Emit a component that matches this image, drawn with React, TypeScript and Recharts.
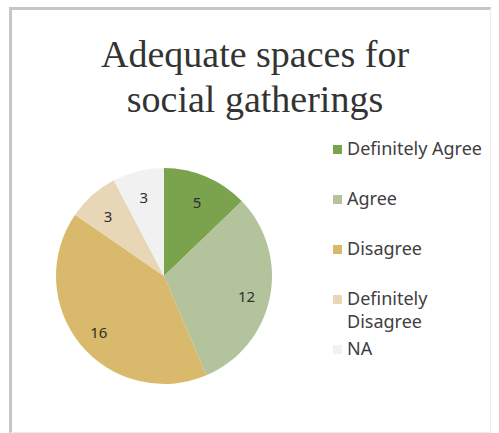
import { PieChart, Pie, Cell, Legend } from 'recharts';

const categories = ['Definitely Agree', 'Agree', 'Disagree', 'Definitely Disagree', 'NA'];
const counts = [5, 12, 16, 3, 3];
const sliceColors = ['#7ba24c', '#b3c39b', '#d9b96b', '#e8d7b6', '#f1f1f1'];

const data = categories.map((name, i) => ({ name, value: counts[i] }));

const RADIAN = Math.PI / 180;

function renderLabel(props: any) {
  const { cx, cy, midAngle, outerRadius, value } = props;
  const r = outerRadius * 0.78;
  const x = cx + r * Math.cos(-midAngle * RADIAN);
  const y = cy + r * Math.sin(-midAngle * RADIAN) + 3;
  return (
    <text x={x} y={y} fill="#2f2f2f" fontSize={15} fontFamily="'Noto Sans', sans-serif" textAnchor="middle" dominantBaseline="central">
      {value}
    </text>
  );
}

function renderLegend() {
  return (
    <div style={styles.legend}>
      {data.map((d, i) => (
        <div key={d.name} style={styles.legendItem}>
          <span style={{ ...styles.swatch, background: sliceColors[i] }} />
          <span style={styles.legendText}>{d.name}</span>
        </div>
      ))}
    </div>
  );
}

export default function App() {
  return (
    <div style={styles.page}>
      <div style={styles.frame} />
      <div style={styles.title}>
        Adequate spaces for
        <br />
        social gatherings
      </div>
      <PieChart width={499} height={433} margin={{ top: 0, right: 0, bottom: 0, left: 0 }}>
        <Pie
          data={data}
          dataKey="value"
          nameKey="name"
          cx={164}
          cy={276}
          outerRadius={108}
          startAngle={90}
          endAngle={-270}
          stroke="none"
          label={renderLabel}
          labelLine={false}
          isAnimationActive={false}
        >
          {data.map((d, i) => (
            <Cell key={d.name} fill={sliceColors[i]} />
          ))}
        </Pie>
        <Legend
          layout="vertical"
          align="right"
          verticalAlign="middle"
          content={renderLegend}
          wrapperStyle={{ left: 333, right: 'auto', top: 138, width: 162 }}
        />
      </PieChart>
    </div>
  );
}

const styles: Record<string, React.CSSProperties> = {
  page: { position: 'fixed', left: 0, top: 0, width: 499, height: 433, background: '#fff' },
  frame: {
    position: 'absolute', left: 9, top: 7, width: 482, height: 426, boxSizing: 'border-box',
    borderTop: '3px solid #c6c6c6', borderLeft: '3px solid #c6c6c6',
    borderRight: '1px solid #ececec', borderBottom: '1px solid #ececec',
  },
  title: {
    position: 'absolute', left: 0, top: 32, width: 510, textAlign: 'center',
    fontFamily: "'Liberation Serif', serif", fontSize: 38, lineHeight: '45px', color: '#333',
  },
  legend: { fontFamily: "'Noto Sans', sans-serif", fontSize: 18, color: '#404040' },
  legendItem: { height: 50, display: 'flex', alignItems: 'flex-start' },
  swatch: { display: 'inline-block', width: 9, height: 9, marginTop: 7, marginRight: 5, flex: 'none' },
  legendText: { lineHeight: '23px', width: 145, marginTop: -1 },
};
